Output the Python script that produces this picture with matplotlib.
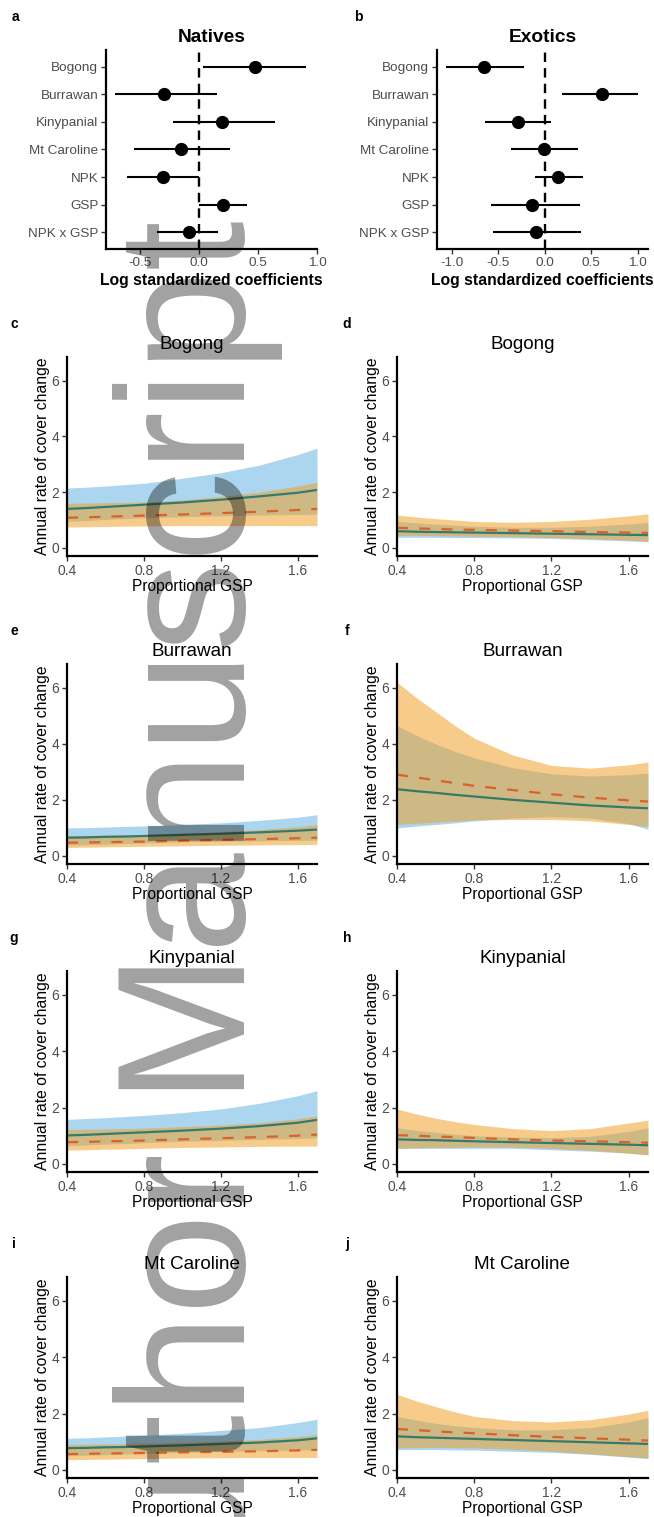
import numpy as np
import matplotlib
matplotlib.use("Agg")
import matplotlib.pyplot as plt

plt.rcParams['font.family'] = ['Liberation Sans', 'DejaVu Sans']

## coefficient panels (a, b)
terms = ['Bogong', 'Burrawan', 'Kinypanial', 'Mt Caroline', 'NPK', 'GSP', 'NPK x GSP']
nat_est = [0.47, -0.30, 0.19, -0.15, -0.31, 0.20, -0.09]
nat_lo = [0.03, -0.71, -0.22, -0.55, -0.61, 0.00, -0.36]
nat_hi = [0.91, 0.15, 0.64, 0.26, 0.00, 0.41, 0.16]
exo_est = [-0.65, 0.61, -0.29, -0.01, 0.14, -0.14, -0.10]
exo_lo = [-1.06, 0.19, -0.64, -0.36, -0.11, -0.58, -0.56]
exo_hi = [-0.22, 1.00, 0.07, 0.36, 0.41, 0.38, 0.39]

## predicted cover change panels (c - j)
gsp = [0.4, 0.5, 0.6, 0.7, 0.8, 1.0, 1.2, 1.4, 1.6, 1.7]

# c: natives, Bogong
c_solid = [1.40, 1.43, 1.47, 1.51, 1.55, 1.63, 1.73, 1.85, 1.98, 2.08]
c_solid_lo = [0.95, 0.98, 1.02, 1.05, 1.08, 1.12, 1.15, 1.18, 1.20, 1.21]
c_solid_hi = [2.15, 2.18, 2.22, 2.27, 2.32, 2.50, 2.70, 2.97, 3.35, 3.58]
c_dash = [1.08, 1.10, 1.12, 1.14, 1.16, 1.20, 1.25, 1.30, 1.36, 1.40]
c_dash_lo = [0.75, 0.76, 0.77, 0.78, 0.79, 0.80, 0.80, 0.80, 0.80, 0.80]
c_dash_hi = [1.60, 1.61, 1.62, 1.63, 1.65, 1.72, 1.85, 2.00, 2.22, 2.35]
# d: exotics, Bogong
d_solid = [0.60, 0.58, 0.57, 0.56, 0.55, 0.53, 0.51, 0.49, 0.47, 0.46]
d_solid_lo = [0.38, 0.38, 0.38, 0.37, 0.37, 0.36, 0.34, 0.30, 0.25, 0.22]
d_solid_hi = [0.95, 0.90, 0.85, 0.81, 0.78, 0.74, 0.74, 0.78, 0.86, 0.92]
d_dash = [0.72, 0.70, 0.68, 0.66, 0.65, 0.62, 0.60, 0.57, 0.55, 0.54]
d_dash_lo = [0.45, 0.45, 0.44, 0.43, 0.42, 0.40, 0.37, 0.33, 0.28, 0.24]
d_dash_hi = [1.18, 1.11, 1.05, 1.00, 0.95, 0.92, 0.95, 1.03, 1.15, 1.22]
# e: natives, Burrawan
e_solid = [0.65, 0.66, 0.68, 0.69, 0.71, 0.75, 0.79, 0.84, 0.90, 0.94]
e_solid_lo = [0.38, 0.40, 0.42, 0.44, 0.46, 0.50, 0.52, 0.54, 0.55, 0.56]
e_solid_hi = [1.00, 1.01, 1.03, 1.05, 1.07, 1.12, 1.18, 1.27, 1.38, 1.47]
e_dash = [0.47, 0.48, 0.49, 0.50, 0.51, 0.54, 0.57, 0.60, 0.63, 0.65]
e_dash_lo = [0.30, 0.31, 0.32, 0.33, 0.34, 0.36, 0.38, 0.39, 0.40, 0.41]
e_dash_hi = [0.72, 0.73, 0.74, 0.75, 0.77, 0.81, 0.86, 0.94, 1.04, 1.12]
# f: exotics, Burrawan
f_solid = [2.38, 2.31, 2.25, 2.18, 2.12, 2.00, 1.90, 1.80, 1.73, 1.70]
f_solid_lo = [1.00, 1.06, 1.12, 1.18, 1.25, 1.35, 1.40, 1.35, 1.15, 0.95]
f_solid_hi = [4.65, 4.30, 4.00, 3.73, 3.50, 3.15, 2.93, 2.85, 2.90, 2.95]
f_dash = [2.90, 2.80, 2.70, 2.60, 2.50, 2.35, 2.20, 2.08, 1.98, 1.94]
f_dash_lo = [1.12, 1.16, 1.20, 1.24, 1.28, 1.30, 1.30, 1.25, 1.12, 1.05]
f_dash_hi = [6.20, 5.65, 5.15, 4.65, 4.20, 3.60, 3.23, 3.13, 3.25, 3.35]
# g: natives, Kinypanial
g_solid = [1.01, 1.03, 1.06, 1.09, 1.12, 1.18, 1.25, 1.34, 1.46, 1.56]
g_solid_lo = [0.65, 0.67, 0.70, 0.72, 0.75, 0.80, 0.83, 0.87, 0.90, 0.93]
g_solid_hi = [1.58, 1.61, 1.64, 1.68, 1.72, 1.82, 1.95, 2.15, 2.42, 2.60]
g_dash = [0.77, 0.78, 0.80, 0.81, 0.83, 0.87, 0.91, 0.95, 1.00, 1.04]
g_dash_lo = [0.49, 0.50, 0.52, 0.53, 0.55, 0.58, 0.60, 0.62, 0.63, 0.63]
g_dash_hi = [1.22, 1.23, 1.24, 1.25, 1.27, 1.32, 1.38, 1.46, 1.60, 1.70]
# h: exotics, Kinypanial
h_solid = [0.87, 0.85, 0.84, 0.82, 0.80, 0.77, 0.74, 0.71, 0.68, 0.66]
h_solid_lo = [0.55, 0.55, 0.55, 0.55, 0.55, 0.55, 0.50, 0.45, 0.38, 0.32]
h_solid_hi = [1.28, 1.19, 1.12, 1.05, 1.00, 0.95, 0.93, 0.98, 1.15, 1.28]
h_dash = [1.02, 1.00, 0.97, 0.95, 0.92, 0.87, 0.83, 0.80, 0.77, 0.75]
h_dash_lo = [0.55, 0.57, 0.58, 0.59, 0.60, 0.60, 0.55, 0.48, 0.38, 0.32]
h_dash_hi = [1.95, 1.77, 1.62, 1.50, 1.40, 1.25, 1.18, 1.25, 1.45, 1.55]
# i: natives, Mt Caroline
i_solid = [0.77, 0.78, 0.80, 0.81, 0.83, 0.87, 0.92, 0.97, 1.05, 1.12]
i_solid_lo = [0.50, 0.52, 0.54, 0.56, 0.58, 0.62, 0.65, 0.68, 0.70, 0.71]
i_solid_hi = [1.12, 1.14, 1.17, 1.20, 1.23, 1.30, 1.40, 1.50, 1.68, 1.80]
i_dash = [0.56, 0.57, 0.58, 0.59, 0.60, 0.62, 0.64, 0.66, 0.69, 0.71]
i_dash_lo = [0.36, 0.37, 0.38, 0.39, 0.40, 0.42, 0.43, 0.44, 0.44, 0.44]
i_dash_hi = [0.90, 0.91, 0.92, 0.93, 0.95, 0.98, 1.02, 1.08, 1.18, 1.25]
# j: exotics, Mt Caroline
j_solid = [1.19, 1.16, 1.14, 1.12, 1.10, 1.06, 1.02, 0.98, 0.94, 0.92]
j_solid_lo = [0.72, 0.72, 0.72, 0.71, 0.70, 0.66, 0.62, 0.55, 0.45, 0.40]
j_solid_hi = [1.90, 1.77, 1.65, 1.57, 1.50, 1.42, 1.42, 1.50, 1.70, 1.85]
j_dash = [1.45, 1.41, 1.37, 1.33, 1.30, 1.23, 1.17, 1.12, 1.07, 1.04]
j_dash_lo = [0.78, 0.79, 0.80, 0.79, 0.78, 0.73, 0.66, 0.57, 0.47, 0.42]
j_dash_hi = [2.68, 2.45, 2.25, 2.06, 1.90, 1.75, 1.70, 1.78, 1.98, 2.12]

W, H = 654, 1517
fig = plt.figure(figsize=(W / 100, H / 100), dpi=100)


def px_axes(l, t, r, b):
    return fig.add_axes([l / W, 1 - b / H, (r - l) / W, (b - t) / H])


def style(ax, size):
    for s in ['top', 'right']:
        ax.spines[s].set_visible(False)
    for s in ['left', 'bottom']:
        ax.spines[s].set_linewidth(1.6)
        ax.spines[s].set_color('black')
    ax.tick_params(length=3.5, width=1.0, color='#333333', labelcolor='#4D4D4D',
                   labelsize=size, pad=2)


def coef_panel(ax, est, lo, hi, title, xticks, xlim):
    y = np.arange(len(terms))
    ax.axvline(0, color='black', lw=1.7, ls=(0, (4, 2.6)), zorder=1)
    ax.hlines(y, lo, hi, color='black', lw=1.5, zorder=2)
    ax.plot(est, y, 'o', color='black', ms=8.5, zorder=3)
    ax.set_yticks(y)
    ax.set_yticklabels(terms)
    ax.set_ylim(len(terms) - 0.4, -0.6)
    ax.set_xticks(xticks)
    ax.set_xticklabels(['%.1f' % v for v in xticks])
    ax.set_xlim(*xlim)
    style(ax, 9.7)
    ax.set_title(title, fontsize=13.8, fontweight='bold', pad=6)
    ax.set_xlabel('Log standardized coefficients', fontsize=11.3, fontweight='bold', labelpad=3)


ax_a = px_axes(106, 50, 317, 249)
coef_panel(ax_a, nat_est, nat_lo, nat_hi, 'Natives', [-0.5, 0.0, 0.5, 1.0], (-0.79, 1.0))
ax_b = px_axes(437, 50, 648, 249)
coef_panel(ax_b, exo_est, exo_lo, exo_hi, 'Exotics', [-1.0, -0.5, 0.0, 0.5, 1.0], (-1.16, 1.11))


def pred_panel(ax, solid, solid_lo, solid_hi, dash, dash_lo, dash_hi, title):
    ax.fill_between(gsp, solid_lo, solid_hi, color='#5BAFE1', alpha=0.5, lw=0)
    ax.fill_between(gsp, dash_lo, dash_hi, color='#F19B19', alpha=0.5, lw=0)
    ax.plot(gsp, solid, color='#367a6c', lw=1.6)
    ax.plot(gsp, dash, color='#D9622B', lw=1.6, ls=(0, (5, 5)))
    ax.set_xlim(0.4, 1.7)
    ax.set_ylim(-0.29, 6.85)
    ax.set_xticks([0.4, 0.8, 1.2, 1.6])
    ax.set_xticklabels(['0.4', '0.8', '1.2', '1.6'])
    ax.set_yticks([0, 2, 4, 6])
    style(ax, 10)
    ax.set_title(title, fontsize=13.6, pad=6)
    ax.set_xlabel('Proportional GSP', fontsize=11.2, labelpad=1)
    ax.set_ylabel('Annual rate of cover change', fontsize=11.3, labelpad=1)


tops = [357, 664, 971, 1277]
bots = [556, 864, 1172, 1478]
panels = [
    ('c', 0, 0, c_solid, c_solid_lo, c_solid_hi, c_dash, c_dash_lo, c_dash_hi, 'Bogong'),
    ('d', 0, 1, d_solid, d_solid_lo, d_solid_hi, d_dash, d_dash_lo, d_dash_hi, 'Bogong'),
    ('e', 1, 0, e_solid, e_solid_lo, e_solid_hi, e_dash, e_dash_lo, e_dash_hi, 'Burrawan'),
    ('f', 1, 1, f_solid, f_solid_lo, f_solid_hi, f_dash, f_dash_lo, f_dash_hi, 'Burrawan'),
    ('g', 2, 0, g_solid, g_solid_lo, g_solid_hi, g_dash, g_dash_lo, g_dash_hi, 'Kinypanial'),
    ('h', 2, 1, h_solid, h_solid_lo, h_solid_hi, h_dash, h_dash_lo, h_dash_hi, 'Kinypanial'),
    ('i', 3, 0, i_solid, i_solid_lo, i_solid_hi, i_dash, i_dash_lo, i_dash_hi, 'Mt Caroline'),
    ('j', 3, 1, j_solid, j_solid_lo, j_solid_hi, j_dash, j_dash_lo, j_dash_hi, 'Mt Caroline'),
]
for letter, row, col, s, slo, shi, d, dlo, dhi, title in panels:
    l, r = (67, 317) if col == 0 else (397, 648)
    ax = px_axes(l, tops[row], r, bots[row])
    pred_panel(ax, s, slo, shi, d, dlo, dhi, title)
    lx = 14 if col == 0 else 347
    fig.text(lx / W, 1 - (tops[row] - 33) / H, letter, fontsize=10, fontweight='bold',
             ha='center', va='center')

fig.text(15 / W, 1 - 17 / H, 'a', fontsize=10, fontweight='bold', ha='center', va='center')
fig.text(358 / W, 1 - 17 / H, 'b', fontsize=10, fontweight='bold', ha='center', va='center')

# watermark over the left column
fig.text(245 / W, 1 - 220 / H, 'Author Manuscript', rotation=90, rotation_mode='anchor',
         ha='right', va='baseline', fontsize=130, color='black', alpha=0.37, zorder=10)

fig.savefig('out.png', dpi=100)
